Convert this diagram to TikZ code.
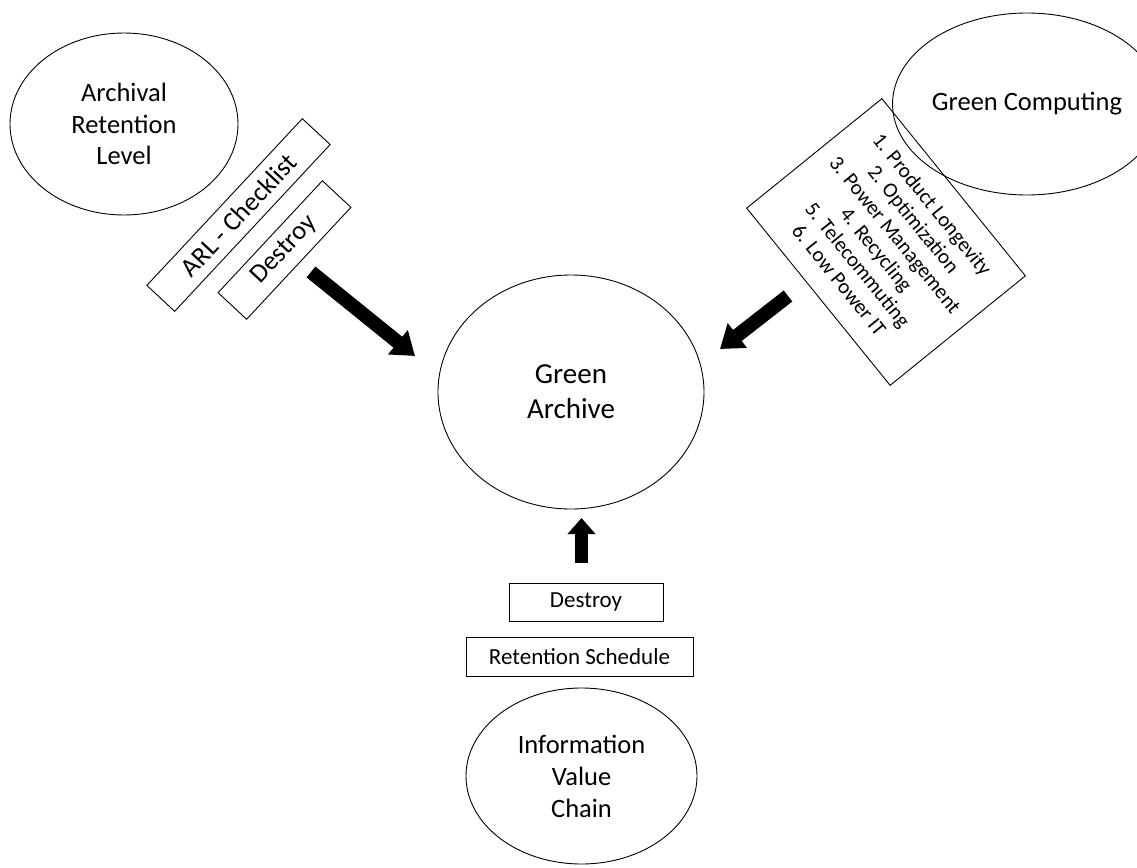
\documentclass[tikz,border=0pt]{standalone}
\usepackage{fontspec}
\setmainfont{Carlito}
\usetikzlibrary{shapes.geometric,arrows.meta}
\begin{document}
\begin{tikzpicture}[x=1pt,y=-1pt,
  oval/.style={draw=black,line width=0.9pt,ellipse,inner sep=0pt,align=center},
  bigtext/.style={font=\fontsize{26.5}{31.5}\selectfont},
  tag/.style={draw=black,line width=0.9pt,rectangle,inner sep=0pt,align=center},
  fat/.style={line width=14pt,-{Triangle[width=30pt,length=22pt]}}]
\useasboundingbox (0,0) rectangle (1137,867);
% ellipses
\node[oval,bigtext,minimum width=228pt,minimum height=182pt] (arl) at (124,124) {Archival\\Retention\\Level};
\node[oval,bigtext,minimum width=218pt,minimum height=182pt] (gc) at (1027,104) {Green Computing};
\node[oval,font=\fontsize{29}{35}\selectfont,minimum width=266pt,minimum height=234pt] (ga) at (571,392) {Green\\Archive};
\node[oval,font=\fontsize{26.5}{32}\selectfont,minimum width=231pt,minimum height=176pt] (ivc) at (581.5,776) {Information\\Value\\Chain};
% left boxes
\node[tag,bigtext,rotate=47,minimum width=228pt,minimum height=38pt] (chk) at (238.5,215) {ARL - Checklist};
\node[tag,bigtext,rotate=47,minimum width=153pt,minimum height=39pt] (dl) at (284.5,250) {Destroy};
% right list box
\node[tag,font=\fontsize{21}{24}\selectfont,rotate=-51,minimum width=228pt,minimum height=174pt] (list) at (886,242)
  {1. Product Longevity\\2. Optimization\\3. Power Management\\4. Recycling\\5. Telecommuting\\6. Low Power IT};
% bottom boxes
\node[tag,font=\fontsize{23}{27}\selectfont,minimum width=154pt,minimum height=38pt] (db) at (586,602) {Destroy};
\node[tag,font=\fontsize{23}{27}\selectfont,minimum width=227pt,minimum height=39pt] (rs) at (579.5,656.5) {Retention Schedule};
% arrows
\coordinate (la1) at (311,272);
\coordinate (la2) at (415,356);
\coordinate (ra1) at (788,296);
\coordinate (ra2) at (720,349);
\coordinate (ua1) at (581.5,563);
\coordinate (ua2) at (581.5,518);
\draw[fat] (la1) -- (la2);
\draw[fat] (ra1) -- (ra2);
\draw[line width=13pt,-{Triangle[width=27pt,length=16pt]}] (ua1) -- (ua2);
\end{tikzpicture}
\end{document}
